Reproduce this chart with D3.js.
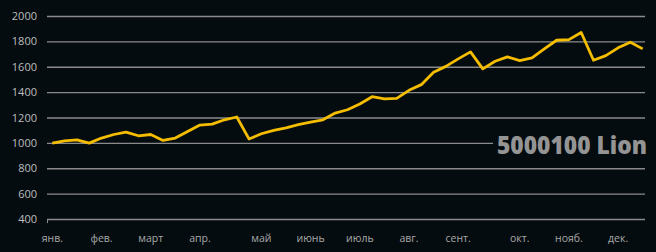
<!DOCTYPE html>
<html>
<head>
<meta charset="utf-8">
<script src="https://cdn.jsdelivr.net/npm/d3@7"></script>
<style>
body{margin:0;background:#050c10;}
svg{display:block;}
</style>
</head>
<body>
<svg id="chart" width="656" height="252"></svg>
<script>
// weekly values
let values = [998, 1016, 1024, 998, 1038, 1066, 1085, 1056, 1066, 1019, 1038, 1090, 1140,
	1148, 1182, 1204, 1030, 1072, 1098, 1119, 1143, 1164, 1182, 1235, 1261, 1306, 1364,
	1346, 1351, 1414, 1459, 1556, 1603, 1662, 1717, 1583, 1643, 1678, 1648, 1670, 1741,
	1809, 1814, 1870, 1651, 1688, 1749, 1793, 1741];
let months = ['янв.', 'фев.', 'март', 'апр.', 'май', 'июнь', 'июль', 'авг.', 'сент.', 'окт.', 'нояб.', 'дек.'];
let monthWeek = [0, 4, 8, 12, 17, 21, 25, 29, 33, 38, 42, 46];
let yTicks = [400, 600, 800, 1000, 1200, 1400, 1600, 1800, 2000];
let title = '5000100 Lion';

let bg = '#050c10';
let svg = d3.select('#chart');
svg.append('rect').attr('width',656).attr('height',252).attr('fill',bg);

var plotL = 47, plotR = 645, plotT = 16, plotB = 219;
var x = d3.scalePoint()
	.domain(d3.range(values.length))
	.range([52.3, 642.7]);
var y = d3.scaleLinear()
	.domain([400, 2000])
	.range([plotB, plotT]);

// grid
svg.append('g').selectAll('line').data(yTicks).enter()
	.append('line')
		.attr('x1', plotL).attr('x2', plotR)
		.attr('y1', d => y(d)+0.5).attr('y2', d => y(d)+0.5)
		.attr('stroke', '#8a8a8a')
		.attr('stroke-width', 1.3);
svg.append('line')
	.attr('x1', plotL+0.5).attr('x2', plotL+0.5)
	.attr('y1', plotB).attr('y2', plotB+4)
	.attr('stroke', '#8a8a8a');

// y labels
svg.append('g').selectAll('text').data(yTicks).enter()
	.append('text')
		.attr('x', 37)
		.attr('y', d => y(d)+4)
		.attr('text-anchor','end')
		.attr('font-family','Open Sans, sans-serif')
		.attr('font-size','11px')
		.attr('fill','#bdbdbd')
		.text(d => d);

// month labels
svg.append('g').selectAll('text').data(months).enter()
	.append('text')
		.attr('x', (d,i) => x(monthWeek[i]))
		.attr('y', 242)
		.attr('text-anchor','middle')
		.attr('font-family','Open Sans, sans-serif')
		.attr('font-size','10.5px')
		.attr('fill','#a8a8a8')
		.text(d => d);

// title label with background box over the grid
var titleBg = svg.append('rect').attr('fill', bg);
var t = svg.append('text')
	.attr('x', 497)
	.attr('y', 154)
	.attr('font-family','Open Sans, sans-serif')
	.attr('font-weight','800')
	.attr('font-size','25px')
	.attr('textLength', 150)
	.attr('lengthAdjust','spacingAndGlyphs')
	.attr('fill','#949494')
	.text(title);
var bb = t.node().getBBox();
titleBg.attr('x', bb.x-4).attr('y', bb.y)
	.attr('width', bb.width+4).attr('height', bb.height);

// line
var line = d3.line()
	.x((d,i) => x(i))
	.y(d => y(d));
svg.append('path')
	.datum(values)
	.attr('d', line)
	.attr('fill','none')
	.attr('stroke','#f5bd00')
	.attr('stroke-width', 2.8)
	.attr('stroke-linejoin','round');
</script>
</body>
</html>
